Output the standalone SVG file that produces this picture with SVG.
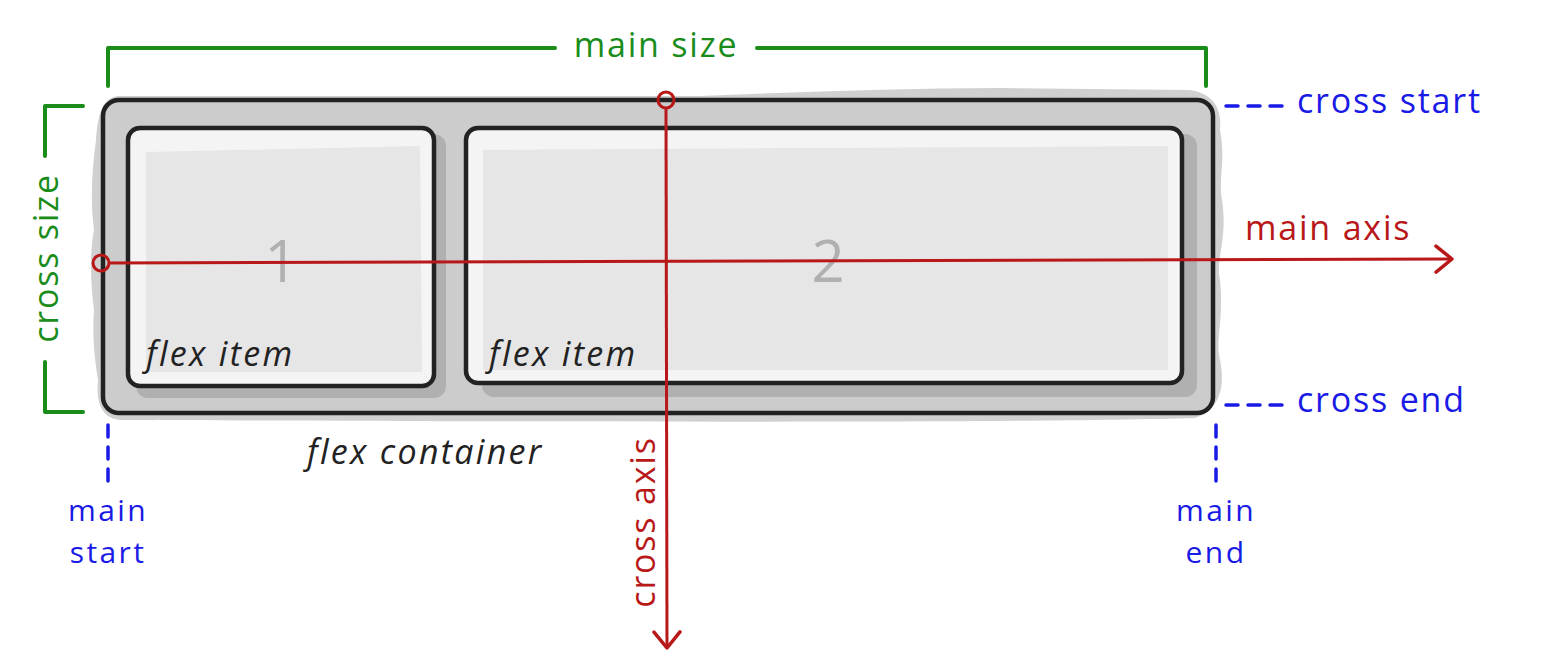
<svg xmlns="http://www.w3.org/2000/svg" width="1541" height="661" viewBox="0 0 1541 661">
<defs>
<style>
.lbl{font-family:"Open Sans","Liberation Sans",sans-serif;font-size:34px;letter-spacing:1.8px}
.stack{font-size:30px;letter-spacing:2.4px}
.green{fill:#1a8c1a}
.blue{fill:#1a1ae6}
.red{fill:#b81818}
.ital{font-style:italic;fill:#222;letter-spacing:2.3px}
.gstroke{stroke:#1a8c1a;stroke-width:4;fill:none;stroke-linecap:round;stroke-linejoin:round}
.bdash{stroke:#1a1ae6;stroke-width:3.5;fill:none;stroke-dasharray:12 10;stroke-linecap:round}
.axis{stroke:#b81818;stroke-width:3;fill:none}
.box{stroke:#222;stroke-width:4.5}
.num{font-family:"Open Sans","Liberation Sans",sans-serif;font-size:58px;fill:#b0b0b0;text-anchor:middle}
</style>
<marker id="chev" viewBox="0 0 20 30" refX="18" refY="15" markerWidth="20" markerHeight="30" markerUnits="userSpaceOnUse" orient="auto">
<path d="M2 2 L18 15 L2 28" fill="none" stroke="#b81818" stroke-width="3.5" stroke-linecap="round" stroke-linejoin="round"/>
</marker>
</defs>
<rect width="1541" height="661" fill="#fff"/>

<g id="container">
<path d="M118 96 L700 96 C800 92 900 88 1000 88 L1190 90 C1215 94 1222 110 1220 130 C1226 160 1218 180 1222 200 C1228 240 1215 260 1220 280 C1224 320 1215 340 1220 360 C1226 390 1218 410 1195 418 C1000 424 400 421 120 420 C100 418 96 400 98 380 C95 360 92 340 94 310 C90 280 90 250 94 230 C90 200 92 170 96 140 C98 110 104 98 118 96 Z" fill="#d0d0d0"/>
<rect class="box" x="103" y="100" width="1110" height="313" rx="16" fill="#cccccc"/>
<text class="lbl ital" x="307" y="464">flex container</text>
</g>

<g id="item1">
<rect x="136" y="134" width="310" height="264" rx="12" fill="#b0b0b0"/>
<rect x="128" y="128" width="306" height="258" rx="12" fill="#f4f4f4"/>
<path d="M146 152 L420 146 L422 372 L146 372 Z" fill="#e6e6e6"/>
<rect class="box" x="128" y="128" width="306" height="258" rx="12" fill="none"/>
<text class="num" x="281" y="282">1</text>
<text class="lbl ital" x="146" y="366">flex item</text>
</g>

<g id="item2">
<rect x="482" y="134" width="715" height="263" rx="12" fill="#b0b0b0"/>
<rect x="466" y="128" width="716" height="255" rx="12" fill="#f4f4f4"/>
<path d="M483 150 L1168 146 L1168 370 L483 370 Z" fill="#e6e6e6"/>
<rect class="box" x="466" y="128" width="716" height="255" rx="12" fill="none"/>
<text class="num" x="828" y="282">2</text>
<text class="lbl ital" x="489" y="366">flex item</text>
</g>

<g id="connectors">
<path class="gstroke" d="M108 86 V48 H555 M757 48 H1206 V86"/>
<path class="gstroke" d="M83 106 H45 V156 M45 362 V412 H83"/>
<path class="bdash" d="M1226 106 H1287"/>
<path class="bdash" d="M1226 405 H1287"/>
<path class="bdash" d="M108 425 V487"/>
<path class="bdash" d="M1216 425 V487"/>
<circle cx="101" cy="263" r="8" fill="none" stroke="#b81818" stroke-width="3"/>
<path class="axis" d="M109 263 L1452 259" marker-end="url(#chev)"/>
<circle cx="666" cy="100" r="8" fill="none" stroke="#b81818" stroke-width="3"/>
<path class="axis" d="M666 108 L667 648" marker-end="url(#chev)"/>
</g>

<g id="labels">
<text class="lbl green" x="656" y="57" text-anchor="middle">main size</text>
<text class="lbl green" transform="translate(58 258) rotate(-90)" text-anchor="middle">cross size</text>
<text class="lbl red" x="1245" y="240">main axis</text>
<text class="lbl red" transform="translate(655 522) rotate(-90)" text-anchor="middle">cross axis</text>
<text class="lbl blue" x="1297" y="113">cross start</text>
<text class="lbl blue" x="1297" y="412">cross end</text>
<text class="lbl stack blue" x="108" y="521" text-anchor="middle">main</text>
<text class="lbl stack blue" x="108" y="563" text-anchor="middle">start</text>
<text class="lbl stack blue" x="1216" y="521" text-anchor="middle">main</text>
<text class="lbl stack blue" x="1216" y="563" text-anchor="middle">end</text>
</g>
</svg>
